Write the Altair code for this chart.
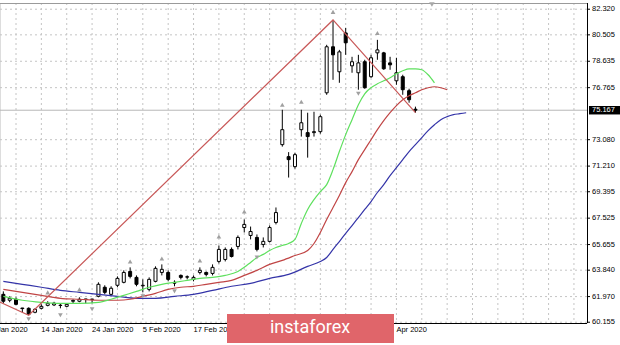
import altair as alt
import pandas as pd

# ---------------- data ----------------
# bar index: 0 = 2 Jan 2020 (trading days)
bar_index = list(range(2, 68))
bar_open = [62.13, 61.71, 61.78, 61.16, 61.14, 60.86, 61.14, 61.35, 61.38, 61.36,
            61.28, 61.64, 61.64, 61.80, 61.77, 61.99, 62.63, 62.13, 62.77, 62.98,
            63.75, 63.33, 62.73, 62.48, 63.05, 63.68, 63.68, 62.98, 63.47, 63.37,
            63.19, 63.68, 63.68, 63.61, 64.46, 64.60, 65.31, 65.52, 66.86, 66.30,
            66.16, 65.66, 65.88, 67.22, 72.73, 71.88, 71.17, 73.79, 73.58, 73.58,
            73.65, 76.40, 79.66, 77.89, 80.64, 78.31, 77.82, 78.60, 77.54, 79.23,
            79.23, 78.52, 77.25, 77.54, 76.55, 75.24]
bar_high = [62.34, 61.99, 61.92, 61.17, 61.21, 61.14, 61.42, 61.64, 61.60, 61.49,
            61.49, 61.78, 61.92, 61.81, 61.80, 62.98, 62.77, 62.70, 63.40, 63.83,
            64.04, 63.47, 63.19, 63.33, 64.11, 64.25, 63.83, 63.12, 63.54, 63.47,
            63.47, 64.04, 63.75, 64.25, 65.59, 65.45, 65.45, 66.30, 67.43, 66.93,
            66.37, 66.16, 67.01, 68.28, 75.20, 72.20, 72.16, 75.20, 74.99, 75.06,
            74.85, 79.80, 81.56, 79.44, 81.00, 78.95, 79.09, 78.74, 79.09, 80.15,
            79.30, 78.95, 78.88, 77.68, 76.69, 75.42]
bar_low = [61.49, 61.57, 61.35, 60.86, 60.65, 60.79, 61.07, 61.28, 61.30, 61.14,
           61.21, 61.49, 61.57, 61.49, 61.50, 61.92, 62.13, 62.06, 62.63, 62.91,
           63.26, 62.70, 62.27, 62.34, 62.98, 63.47, 63.05, 62.70, 63.19, 63.19,
           63.05, 63.54, 63.40, 63.47, 64.32, 64.46, 64.74, 65.31, 66.51, 66.02,
           65.17, 65.45, 65.80, 67.08, 72.59, 70.40, 71.03, 73.30, 71.81, 73.30,
           73.51, 76.26, 77.32, 77.11, 79.09, 77.82, 76.62, 76.69, 77.46, 78.74,
           78.03, 78.03, 76.97, 76.26, 75.70, 74.99]
bar_close = [61.64, 61.85, 61.42, 61.12, 60.72, 61.07, 61.28, 61.49, 61.50, 61.34,
             61.42, 61.70, 61.78, 61.77, 61.79, 62.84, 62.27, 62.56, 63.26, 63.68,
             63.40, 62.84, 62.77, 63.19, 63.97, 63.90, 63.19, 62.92, 63.33, 63.35,
             63.33, 63.83, 63.54, 64.04, 65.31, 65.31, 64.81, 66.16, 67.08, 66.58,
             65.31, 65.88, 66.86, 67.92, 73.79, 71.67, 72.02, 74.28, 73.30, 73.65,
             74.71, 79.66, 79.09, 79.30, 79.94, 78.60, 78.52, 76.76, 78.88, 79.44,
             78.10, 78.38, 77.82, 76.62, 75.91, 75.17]

# Alligator lines (drawn shifted forward, as on the chart)
lips_index = [2, 5, 8, 11, 14, 17, 19, 21, 23, 25, 27, 29, 31, 33, 35, 37, 39,
              40, 41, 42, 43, 44, 45, 46, 47, 48, 49, 50, 51, 52, 53, 54, 55, 56,
              57, 58, 59, 60, 61, 62, 63, 64, 65, 66, 67, 68, 69, 70]
lips_value = [61.99, 61.71, 61.56, 61.49, 61.49, 61.56, 61.78, 62.06, 62.34, 62.63,
              62.84, 62.98, 63.12, 63.26, 63.33, 63.47, 63.75,
              64.04, 64.39, 64.74, 64.96, 65.24, 65.45, 65.59, 65.73, 66.02, 67.15,
              68.14, 68.84, 69.41, 69.90, 70.96, 72.24, 73.44, 74.50, 75.56, 76.33,
              76.76, 77.04, 77.25, 77.46, 77.75, 77.96, 78.10, 78.10, 78.03, 77.68,
              77.11]
teeth_index = [2, 5, 8, 11, 14, 17, 20, 22, 24, 26, 28, 30, 32, 34, 36, 38, 40, 42,
               44, 46, 48, 50, 51, 52, 53, 54, 55, 56, 57, 58, 59, 60, 61, 62, 63,
               64, 65, 66, 67, 68, 69, 70, 71, 72]
teeth_value = [62.48, 62.27, 62.06, 61.85, 61.78, 61.71, 61.71, 61.78, 61.99, 62.20,
               62.48, 62.63, 62.70, 62.84, 62.98, 63.12, 63.47, 63.83, 64.25, 64.53,
               64.88, 65.24, 65.73, 66.51, 67.43, 68.28, 69.13, 70.04, 70.82, 71.67,
               72.38, 73.08, 73.79, 74.43, 74.99, 75.49, 75.91, 76.19, 76.40, 76.62,
               76.76, 76.83, 76.76, 76.62]
jaw_index = [2, 5, 8, 11, 14, 17, 20, 23, 26, 29, 32, 35, 38, 41, 44, 47, 50, 52,
             53, 54, 55, 56, 57, 58, 59, 60, 61, 62, 63, 64, 65, 66, 67, 68, 69, 70,
             71, 72, 73, 74, 75]
jaw_value = [63.05, 62.84, 62.63, 62.41, 62.27, 62.13, 61.99, 61.85, 61.85, 61.99,
             62.13, 62.41, 62.70, 62.91, 63.26, 63.54, 64.11, 64.46,
             64.74, 65.31, 65.87, 66.44, 67.00, 67.57, 68.14, 68.70, 69.34, 69.90,
             70.54, 71.10, 71.67, 72.24, 72.73, 73.23, 73.72, 74.14, 74.50, 74.71,
             74.85, 74.92, 74.99]

zigzag_index = [0, 6, 54, 67]
zigzag_value = [61.88, 60.65, 81.56, 74.99]

fractal_up_index = [9, 14, 22, 27, 33, 36, 40, 46, 49, 54, 61]
fractal_up_value = [62.27, 62.48, 64.46, 64.67, 64.53, 66.23, 67.99, 75.56, 75.77, 82.13, 80.64]
fractal_down_index = [6, 11, 16, 24, 29, 42, 58]
fractal_down_value = [60.36, 60.65, 61.07, 61.99, 62.34, 64.74, 76.33]

# date labels that are visible (the others sit under the watermark)
date_index = [0, 8, 16, 24, 32, 64]
date_label = ["2 Jan 2020", "14 Jan 2020", "24 Jan 2020", "5 Feb 2020",
              "17 Feb 2020", "Apr 2020"]

price_ticks = [82.320, 80.505, 78.635, 76.765, 73.080, 71.210, 69.395, 67.525,
               65.655, 63.840, 61.970, 60.155]
last_price = 75.167
grid_index = [4 * k for k in range(1, 24)]
chart_shift_index = [69.6]

# ---------------- layout ----------------
W, H = 587, 320
FONT = "Liberation Sans"
xs = alt.Scale(domain=[2.2636, 93.27], nice=False, zero=False)
ys = alt.Scale(domain=[60.10, 82.76], nice=False, zero=False)
GRID = "#c4c4c4"


def X(field):
    return alt.X(field, scale=xs, axis=None)


def Y(field):
    return alt.Y(field, scale=ys, axis=None)


bars = pd.DataFrame({"i": bar_index, "o": bar_open, "h": bar_high,
                     "l": bar_low, "c": bar_close})
ticks_df = pd.DataFrame({"p": price_ticks})
grid_df = pd.DataFrame({"i": grid_index})

hgrid = alt.Chart(ticks_df).mark_rule(color=GRID, strokeDash=[2, 3], strokeWidth=1).encode(
    y=Y("p:Q"), x=alt.value(0), x2=alt.value(W))
vgrid = alt.Chart(grid_df).mark_rule(color=GRID, strokeDash=[2, 3], strokeWidth=1,
                                     clip=True).encode(
    x=X("i:Q"), y=alt.value(0), y2=alt.value(H))

price_tickmarks = alt.Chart(ticks_df).mark_rule(color="#000000").encode(
    y=Y("p:Q"), x=alt.value(W), x2=alt.value(W + 3))
price_labels = alt.Chart(ticks_df).mark_text(
    align="left", baseline="middle", font=FONT, fontSize=7.5, color="#000000").encode(
    y=Y("p:Q"), x=alt.value(W + 5), text=alt.Text("p:Q", format=".3f"))

frame = pd.DataFrame({"k": [0]})
right_border = alt.Chart(frame).mark_rule(color="#000000").encode(
    x=alt.value(W + 0.5), y=alt.value(0), y2=alt.value(H))
bottom_border = alt.Chart(frame).mark_rule(color="#000000").encode(
    y=alt.value(H + 0.5), x=alt.value(0), x2=alt.value(W))
top_border = alt.Chart(frame).mark_rule(color="#9a9a9a").encode(
    x=alt.value(0), x2=alt.value(W), y=alt.value(0.5))
shift_marker = alt.Chart(pd.DataFrame({"i": chart_shift_index})).mark_point(
    shape="triangle-down", filled=True, size=30, color="#a8a8a8", opacity=1).encode(
    x=X("i:Q"), y=alt.value(1.5))

wicks = alt.Chart(bars).mark_rule(color="#000000", strokeWidth=1, clip=True).encode(
    x=X("i:Q"), y=Y("l:Q"), y2="h:Q")

bodies = alt.Chart(bars).mark_bar(size=3, stroke="#000000", strokeWidth=1,
                                  clip=True).encode(
    x=X("i:Q"), y=Y("o:Q"), y2="c:Q",
    fill=alt.condition("datum.c >= datum.o", alt.value("#ffffff"), alt.value("#000000")))

bid = alt.Chart(pd.DataFrame({"p": [last_price]})).mark_rule(
    color="#b8b8b8", strokeWidth=1).encode(y=Y("p:Q"))


def line(idx, val, color, width=1.2, interp="monotone"):
    df = pd.DataFrame({"i": idx, "v": val})
    return alt.Chart(df).mark_line(color=color, strokeWidth=width,
                                   interpolate=interp, clip=True).encode(
        x=X("i:Q"), y=Y("v:Q"))


jaw = line(jaw_index, jaw_value, "#3434a8")
teeth = line(teeth_index, teeth_value, "#c04545")
lips = line(lips_index, lips_value, "#5ee05e")
zigzag = line(zigzag_index, zigzag_value, "#c85858", 1.2, "linear")

frac_up = alt.Chart(pd.DataFrame({"i": fractal_up_index, "v": fractal_up_value})).mark_point(
    shape="triangle-up", filled=True, size=22, color="#a0a0a0", opacity=1, clip=True).encode(
    x=X("i:Q"), y=Y("v:Q"))
frac_dn = alt.Chart(pd.DataFrame({"i": fractal_down_index, "v": fractal_down_value})).mark_point(
    shape="triangle-down", filled=True, size=22, color="#a0a0a0", opacity=1, clip=True).encode(
    x=X("i:Q"), y=Y("v:Q"))

dates = alt.Chart(pd.DataFrame({"i": date_index, "t": date_label})).mark_text(
    align="left", baseline="middle", font=FONT, fontSize=7.5, color="#000000").encode(
    x=X("i:Q"), y=alt.value(327), text="t:N")

tag_df = pd.DataFrame({"p": [last_price], "lo": [last_price - 0.3], "hi": [last_price + 0.3]})
tag_box = alt.Chart(tag_df).mark_rect(color="#000000").encode(
    x=alt.value(589), x2=alt.value(620), y=Y("lo:Q"), y2="hi:Q")
tag_text = alt.Chart(tag_df).mark_text(
    align="left", baseline="middle", font=FONT, fontSize=7.5, color="#ffffff").encode(
    x=alt.value(592), y=Y("p:Q"), text=alt.Text("p:Q", format=".3f"))

wm = pd.DataFrame({"t": ["instaforex"]})
wm_box = alt.Chart(wm).mark_rect(color="#e0656a").encode(
    x=alt.value(227), x2=alt.value(394), y=alt.value(311), y2=alt.value(340))
wm_text = alt.Chart(wm).mark_text(
    align="center", baseline="middle", font="Roboto", fontSize=18,
    color="#ffffff").encode(x=alt.value(310), y=alt.value(325), text="t:N")

chart = alt.layer(
    hgrid, vgrid, bid, wicks, bodies, jaw, teeth, lips, zigzag, frac_up, frac_dn,
    top_border, shift_marker, right_border, bottom_border, price_tickmarks,
    price_labels, dates, wm_box, wm_text, tag_box, tag_text
).properties(
    width=W, height=H,
    padding={"left": 0, "top": 3, "right": 33, "bottom": 22},
    autosize=alt.AutoSizeParams(type="none"),
).configure_view(strokeWidth=0).configure(background="#ffffff")

chart.save("out.html", embed_options={"renderer": "svg", "actions": False})
